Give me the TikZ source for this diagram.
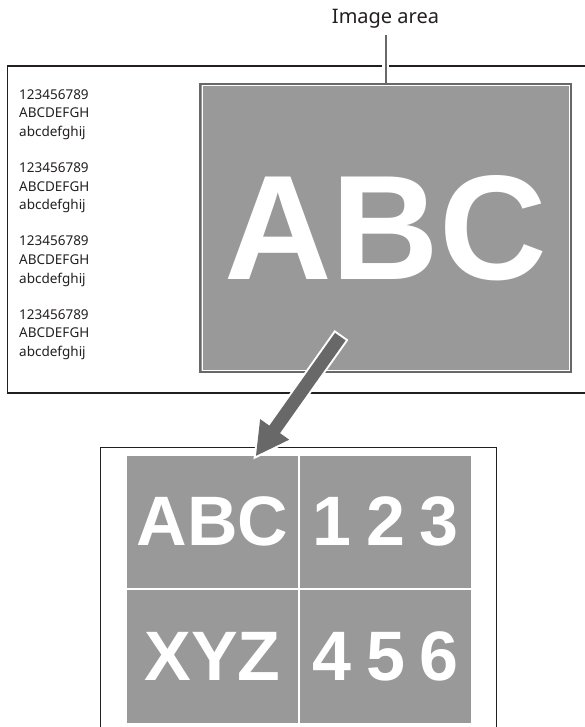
\documentclass[tikz,border=0pt]{standalone}
\usepackage{fontspec}
\setmainfont{Noto Sans}
\newfontfamily\heavyfont{Liberation Sans}
\usepackage{tikz}
\usetikzlibrary{positioning,arrows.meta,backgrounds}

\definecolor{boxgray}{HTML}{999999}
\definecolor{edgegray}{HTML}{686868}
\definecolor{linedark}{HTML}{231F20}

\begin{document}
\begin{tikzpicture}[
  x=1pt, y=-1pt,
  frame/.style={draw=linedark, line width=1.4pt},
  side/.style={inner sep=0pt, font=\fontsize{13.5}{16}\selectfont, text=linedark},
  imgbox/.style={draw=edgegray, line width=2pt, fill=boxgray, text=white,
                 inner sep=0pt, font=\heavyfont\bfseries\fontsize{149}{149}\selectfont},
  cell/.style={draw=white, line width=1pt, fill=boxgray, text=white, inner sep=0pt,
               minimum width=172pt, minimum height=133.5pt,
               font=\heavyfont\bfseries\fontsize{70}{70}\selectfont},
  leader/.style={draw=edgegray, line width=2pt,
                 preaction={draw=white, line width=7pt}},
  bigarrow/.style={draw=edgegray, line width=13pt, -{Triangle[length=33pt, width=33pt]},
                   shorten >=4.5pt, shorten <=2pt,
                   preaction={draw=white, line width=17pt, shorten >=0pt, shorten <=0pt,
                              -{Triangle[length=40pt, width=40pt]}}},
]
  \clip (0,0) rectangle (585,727);

  % source page with text column and image area
  \node[imgbox, minimum width=371pt, minimum height=288pt] (img) at (385.5,228) {ABC};
  \draw[white, line width=1pt] ([shift={(3,3)}]img.north west) rectangle ([shift={(-3,-3)}]img.south east);

  \foreach \g in {0,...,3} {
    \node[side, anchor=base west] (num\g) at (19, 99.3+73.3*\g) {123456789};
    \node[side, anchor=base west] (cap\g) at (19, 118+73.3*\g) {ABCDEFGH};
    \node[side, anchor=base west] (low\g) at (19, 136.7+73.3*\g) {abcdefghij};
  }

  \node[anchor=base, inner sep=0pt, font=\fontsize{20}{24}\selectfont, text=linedark]
       (lbl) at (385.5,24) {Image area};

  \begin{scope}[on background layer]
    \draw[frame] (7.5,66) rectangle (600,393);
    \draw[leader] ([yshift=-6pt]lbl.south) -- (img.north);
  \end{scope}

  % split output, 2 x 2
  \draw[frame, line width=1pt] (100.5,447) rectangle (496.5,740);
  \node[cell] (c11) at (212.5,521.75) {ABC};
  \node[cell, right=0pt of c11] (c12) {1\kern15pt 2\kern15pt 3};
  \node[cell, below=0pt of c11] (c21) {XYZ};
  \node[cell, right=0pt of c21] (c22) {4\kern15pt 5\kern15pt 6};

  % arrow from the image area into the first cell
  \coordinate (atail) at (341.5,335);
  \coordinate (atip) at (253,460);
  \draw[bigarrow] (atail) -- (atip);
\end{tikzpicture}
\end{document}
